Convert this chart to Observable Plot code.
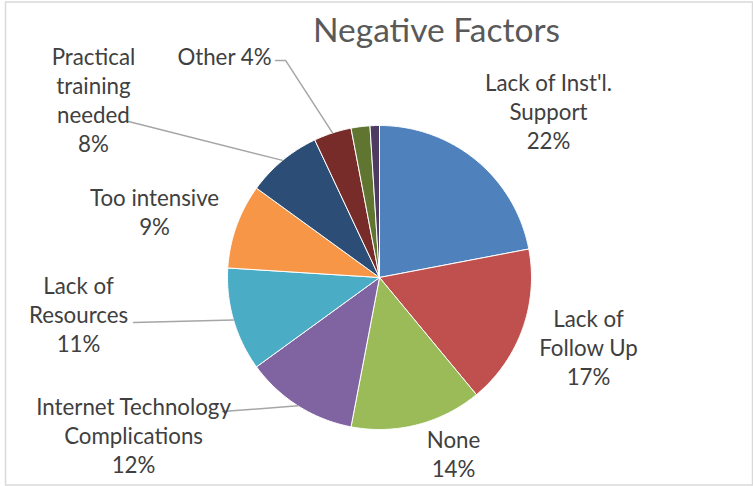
<!DOCTYPE html>
<html><head><meta charset="utf-8">
<script src="https://cdn.jsdelivr.net/npm/d3@7"></script>
<script src="https://cdn.jsdelivr.net/npm/@observablehq/plot@0.6"></script>
<style>body{margin:0;background:#fff}</style>
</head><body><div id="chart"></div>
<script>
// ---- data ----
const title = "Negative Factors";
const categories = ["Lack of Inst'l. Support", "Lack of Follow Up", "None", "Internet Technology Complications",
  "Lack of Resources", "Too intensive", "Practical training needed", "Other", "Unlabeled A", "Unlabeled B"];
const values = [22, 17, 14, 12, 11, 9, 8, 4, 2, 1];
const labelNames = ["Lack of Inst'l.\nSupport", "Lack of\nFollow Up", "None", "Internet Technology\nComplications",
  "Lack of\nResources", "Too intensive", "Practical\ntraining\nneeded", "Other", null, null];

// ---- style / layout ----
const colors = ["#4F81BD", "#C0504D", "#9BBB59", "#8064A2", "#4BACC6", "#F79646", "#2C4D75", "#772C2A", "#5F7530", "#4D3B62"];
const W = 753, H = 486, R = 152, CX = 379, CY = 277;
const FONT = "Lato, 'Open Sans', sans-serif";
const labelFont = 22.3;
// label centres in pie-radius units (x right, y up), and label separators
const labelPos = [[1.112, 1.095], [1.375, -0.457], [0.487, -1.155], [-1.618, -1.033],
  [-1.980, -0.240], [-1.480, 0.434], [-1.882, 1.174], [-1.020, 1.461], null, null];
const labelSep = ["\n", "\n", "\n", "\n", "\n", "\n", "\n", " ", null, null];
// leader line start points (label side) in pie-radius units
const leaderStart = {3: [[-1.033, -0.882]], 4: [[-1.618, -0.296]], 6: [[-1.651, 1.026]], 7: [[-0.684, 1.428], [-0.618, 1.428]]};

// ---- build geometry from data ----
const total = d3.sum(values);
const arcs = d3.pie().sort(null).value(d => d)(values);
const slicePts = [];
arcs.forEach((a, i) => {
  const n = Math.max(4, Math.ceil((a.endAngle - a.startAngle) / 0.01));
  slicePts.push({cat: categories[i], x: 0, y: 0});
  for (let k = 0; k <= n; k++) {
    const t = a.startAngle + (a.endAngle - a.startAngle) * k / n;
    slicePts.push({cat: categories[i], x: Math.sin(t), y: Math.cos(t)});
  }
  slicePts.push({cat: categories[i], x: 0, y: 0});
});
const labels = [];
arcs.forEach((a, i) => {
  if (!labelNames[i]) return;
  const pct = Math.round(values[i] / total * 100) + "%";
  labels.push({text: labelNames[i] + labelSep[i] + pct, x: labelPos[i][0], y: labelPos[i][1]});
});
const leaders = [];
Object.entries(leaderStart).forEach(([i, pts]) => {
  const a = arcs[+i];
  const mid = (a.startAngle + a.endAngle) / 2;
  pts.forEach(p => leaders.push({id: i, x: p[0], y: p[1]}));
  leaders.push({id: i, x: Math.sin(mid), y: Math.cos(mid)});
});

const chart = Plot.plot({
  width: W, height: H,
  margin: 0,
  x: {domain: [-CX / R, (W - CX) / R], axis: null},
  y: {domain: [-(H - CY) / R, CY / R], axis: null},
  color: {domain: categories, range: colors},
  style: {background: "#fff", fontFamily: FONT},
  marks: [
    Plot.frame({stroke: "#d9d9d9", strokeWidth: 1.5, insetLeft: 5, insetTop: 1.5, insetRight: 1, insetBottom: 1.5}),
    Plot.line(slicePts, {x: "x", y: "y", z: "cat", fill: "cat", stroke: "#fff", strokeWidth: 1, curve: "linear"}),
    Plot.line(leaders, {x: "x", y: "y", z: "id", stroke: "#a6a6a6", strokeWidth: 1.5}),
    Plot.text(labels, {x: "x", y: "y", text: "text", fill: "#404040", fontSize: labelFont, lineHeight: 29 / labelFont, textAnchor: "middle"}),
    Plot.text([title], {frameAnchor: "top", dx: 59.5, dy: 17.5, fill: "#595959", fontSize: 33.5})
  ]
});
document.getElementById("chart").appendChild(chart);
</script>
</body></html>
